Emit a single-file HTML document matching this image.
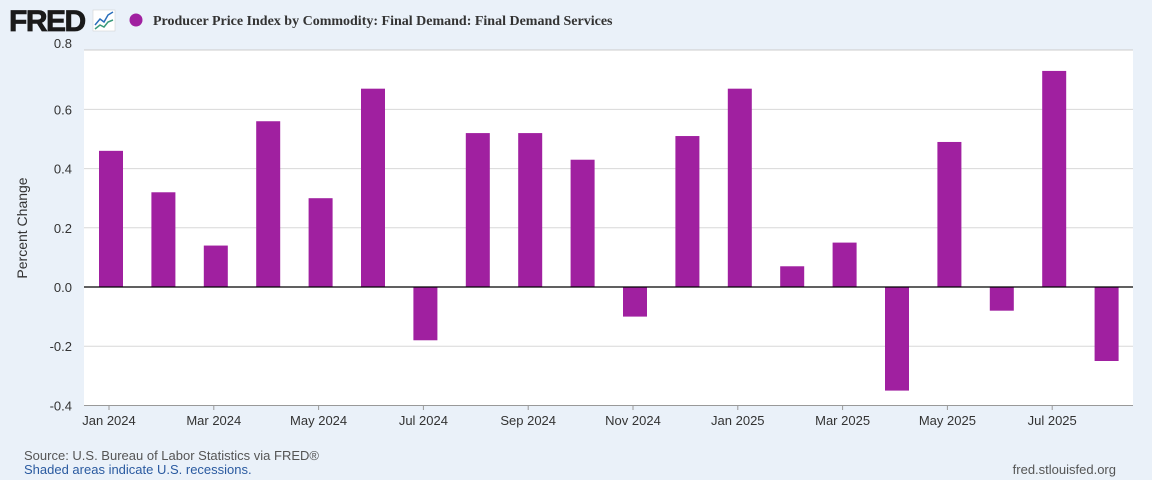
<!DOCTYPE html>
<html><head><meta charset="utf-8"><style>
body{margin:0;width:1152px;height:480px;background:#eaf1f9;font-family:"Liberation Sans",sans-serif;overflow:hidden;position:relative}
</style></head><body>
<svg id="c" width="1152" height="480" style="position:absolute;left:0;top:0">
<text x="9" y="31" font-family="Liberation Sans" font-weight="900" font-size="30" fill="#1a1a1a" letter-spacing="-1.5" stroke="#1a1a1a" stroke-width="0.8">FRED</text>
<g>
<rect x="93" y="10" width="22" height="21" fill="#fff" stroke="#ccc" stroke-width="0.5"/>
<polyline points="95,25 100,19 104,22 108,15 113,12" fill="none" stroke="#2a6ebb" stroke-width="1.5"/>
<polyline points="95,29 100,25 104,27 108,22 113,20" fill="none" stroke="#3a9a7a" stroke-width="1.5"/>
</g>
<circle cx="136" cy="20" r="6.5" fill="#a020a0"/>
<text x="153" y="25" font-family="Liberation Serif" font-weight="bold" font-size="14" fill="#333">Producer Price Index by Commodity: Final Demand: Final Demand Services</text>
<rect x="84" y="50" width="1049" height="355" fill="#fff"/>
<g id="grid"></g><g id="bars"></g><g id="xt"></g>
<text transform="translate(27,228) rotate(-90)" text-anchor="middle" font-size="14" fill="#333">Percent Change</text>
<text x="24" y="460" font-size="13" fill="#555">Source: U.S. Bureau of Labor Statistics via FRED®</text>
<text x="24" y="474" font-size="13" fill="#2a5aa0">Shaded areas indicate U.S. recessions.</text>
<text x="1116" y="474" text-anchor="end" font-size="13" fill="#555">fred.stlouisfed.org</text>
</svg>
<script>
const months=["Jan 2024","Feb 2024","Mar 2024","Apr 2024","May 2024","Jun 2024","Jul 2024","Aug 2024","Sep 2024","Oct 2024","Nov 2024","Dec 2024","Jan 2025","Feb 2025","Mar 2025","Apr 2025","May 2025","Jun 2025","Jul 2025","Aug 2025"];
const values=[0.46,0.32,0.14,0.56,0.30,0.67,-0.18,0.52,0.52,0.43,-0.10,0.51,0.67,0.07,0.15,-0.35,0.49,-0.08,0.73,-0.25];
const yTicks=[-0.4,-0.2,0.0,0.2,0.4,0.6,0.8];
const tickLabels=["-0.4","-0.2","0.0","0.2","0.4","0.6","0.8"];
const NS="http://www.w3.org/2000/svg";
const y=v=>287-v*296;
const x=i=>111+i*52.4;
const g=document.getElementById('grid'),b=document.getElementById('bars'),xt=document.getElementById('xt');
yTicks.forEach((t,i)=>{
 if(t!==0&&t!==0.8&&t!==-0.4){const l=document.createElementNS(NS,'line');
 l.setAttribute('x1',84);l.setAttribute('x2',1133);l.setAttribute('y1',y(t));l.setAttribute('y2',y(t));
 l.setAttribute('stroke','#d8d8d8');
 
 
 g.appendChild(l);}
 const tx=document.createElementNS(NS,'text');
 tx.setAttribute('x',72);tx.setAttribute('y',y(t)+(t===0.8?-2:5));tx.setAttribute('text-anchor','end');
 tx.setAttribute('font-size','13');tx.setAttribute('fill','#333');tx.textContent=tickLabels[i];
 
 
 g.appendChild(tx);
});
const topBorder=document.createElementNS(NS,'line');
topBorder.setAttribute('x1',84);topBorder.setAttribute('x2',1133);topBorder.setAttribute('y1',50);topBorder.setAttribute('y2',50);topBorder.setAttribute('stroke','#ccc');


g.appendChild(topBorder);
values.forEach((v,i)=>{
 const r=document.createElementNS(NS,'rect');
 r.setAttribute('x',x(i)-12);r.setAttribute('width',24);
 r.setAttribute('y',Math.min(y(v),y(0)));r.setAttribute('height',Math.abs(y(v)-y(0)));
 r.setAttribute('fill','#a020a0');
 
 
 b.appendChild(r);
 if(i%2===0){
  const tx=document.createElementNS(NS,'text');
  tx.setAttribute('x',x(i)-2);tx.setAttribute('y',425);tx.setAttribute('text-anchor','middle');
  tx.setAttribute('font-size','13');tx.setAttribute('fill','#333');tx.textContent=months[i];
  
  
  xt.appendChild(tx);
  const tk=document.createElementNS(NS,'line');
  tk.setAttribute('x1',x(i)-2);tk.setAttribute('x2',x(i)-2);tk.setAttribute('y1',405);tk.setAttribute('y2',410);tk.setAttribute('stroke','#999');
  
  
  xt.appendChild(tk);
 }
});
const z=document.createElementNS(NS,'line');
z.setAttribute('x1',84);z.setAttribute('x2',1133);z.setAttribute('y1',y(0));z.setAttribute('y2',y(0));z.setAttribute('stroke','#000');z.setAttribute('stroke-width','1.2');


b.appendChild(z);
const ax=document.createElementNS(NS,'line');
ax.setAttribute('x1',84);ax.setAttribute('x2',1133);ax.setAttribute('y1',405.5);ax.setAttribute('y2',405.5);ax.setAttribute('stroke','#999');


xt.appendChild(ax);
</script>
</body></html>
